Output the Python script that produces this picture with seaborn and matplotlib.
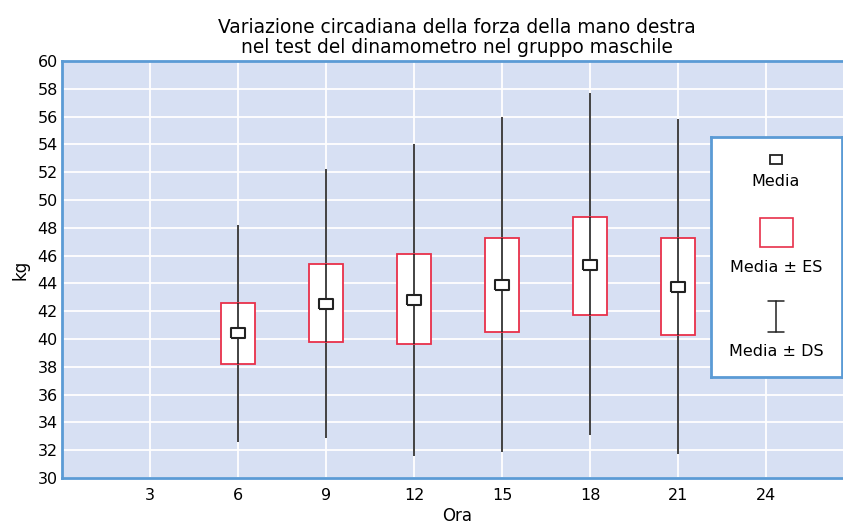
import matplotlib
matplotlib.use("Agg")
import matplotlib.pyplot as plt
import seaborn as sns
import pandas as pd
from matplotlib.patches import Rectangle

hours = [6, 9, 12, 15, 18, 21]
mean = [40.4, 42.5, 42.8, 43.85, 45.3, 43.75]
es_low = [38.2, 39.75, 39.65, 40.5, 41.75, 40.3]
es_high = [42.6, 45.4, 46.1, 47.3, 48.8, 47.25]
ds_low = [32.6, 32.85, 31.6, 31.9, 33.1, 31.7]
ds_high = [48.2, 52.2, 54.0, 56.0, 57.7, 55.8]
xticks = [3, 6, 9, 12, 15, 18, 21, 24]
yticks = list(range(30, 61, 2))

df = pd.DataFrame({"Ora": hours, "mean": mean})

sns.set_style("whitegrid")
plt.rcParams['font.family'] = ['DejaVu Sans']
plt.rcParams['text.color'] = 'black'
plt.rcParams['axes.labelcolor'] = 'black'
plt.rcParams['xtick.color'] = 'black'
plt.rcParams['ytick.color'] = 'black'

BLUE = "#5b9bd5"
RED = "#e8304a"
BG = "#d7e0f3"
FS = 11.5

fig = plt.figure(figsize=(8.43, 5.24), dpi=100)
ax = fig.add_axes([62/843, 1-478/524, 1-62/843+0.01, (478-61)/524])
ax.set_facecolor(BG)
ax.grid(True, color="white", linewidth=1.3)
ax.set_axisbelow(True)

# whiskers (Media ± DS)
ax.vlines(hours, ds_low, ds_high, color="#222222", linewidth=1.2, zorder=2)
# boxes (Media ± ES)
heights = [h - l for h, l in zip(es_high, es_low)]
ax.bar(hours, heights, bottom=es_low, width=1.15, color="white",
       edgecolor=RED, linewidth=1.3, zorder=3)
ax.vlines(hours, es_low, es_high, color="#222222", linewidth=1.2, zorder=4)
# means
rect_marker = [(-1.3, -1), (1.3, -1), (1.3, 1), (-1.3, 1), (-1.3, -1)]
sns.scatterplot(data=df, x="Ora", y="mean", marker=rect_marker, s=95, color="white",
                edgecolor="#222222", linewidth=1.5, ax=ax, zorder=5, legend=False)
ax.set_xlim(0, 26.9)
ax.set_ylim(30, 60)
ax.set_xticks(xticks)
ax.set_yticks(yticks)
ax.tick_params(axis="x", length=0, labelsize=FS, pad=7)
ax.tick_params(axis="y", length=0, labelsize=FS, pad=3)
ax.set_xlabel("Ora", fontsize=12, labelpad=3)
ax.set_ylabel("kg", fontsize=12, labelpad=6)
for s in ["left", "bottom", "top", "right"]:
    ax.spines[s].set_color(BLUE)
    ax.spines[s].set_linewidth(2)
ax.set_title("Variazione circadiana della forza della mano destra\nnel test del dinamometro nel gruppo maschile",
             fontsize=13.4, linespacing=1.05, pad=6)

# legend box
lax = fig.add_axes([711/843, 1-377/524, 131/843, 240/524])
lax.set_xlim(0, 131)
lax.set_ylim(240, 0)
lax.set_xticks([]); lax.set_yticks([])
lax.set_facecolor("white")
for s in lax.spines.values():
    s.set_color(BLUE); s.set_linewidth(2)
cx = 65
lax.add_patch(Rectangle((cx-6, 18), 12, 9, facecolor="white", edgecolor="#222222", linewidth=1.3))
lax.text(cx, 45, "Media", ha="center", va="center", fontsize=FS)
lax.add_patch(Rectangle((cx-16, 81), 33, 29, facecolor="white", edgecolor=RED, linewidth=1.2))
lax.text(cx, 131, "Media ± ES", ha="center", va="center", fontsize=FS)
lax.plot([cx, cx], [164, 195], color="#222222", linewidth=1.1)
lax.plot([cx-8, cx+8], [164, 164], color="#222222", linewidth=1.1)
lax.plot([cx-8, cx+8], [195, 195], color="#222222", linewidth=1.1)
lax.text(cx, 214, "Media ± DS", ha="center", va="center", fontsize=FS)

fig.savefig("out.png", dpi=100)
